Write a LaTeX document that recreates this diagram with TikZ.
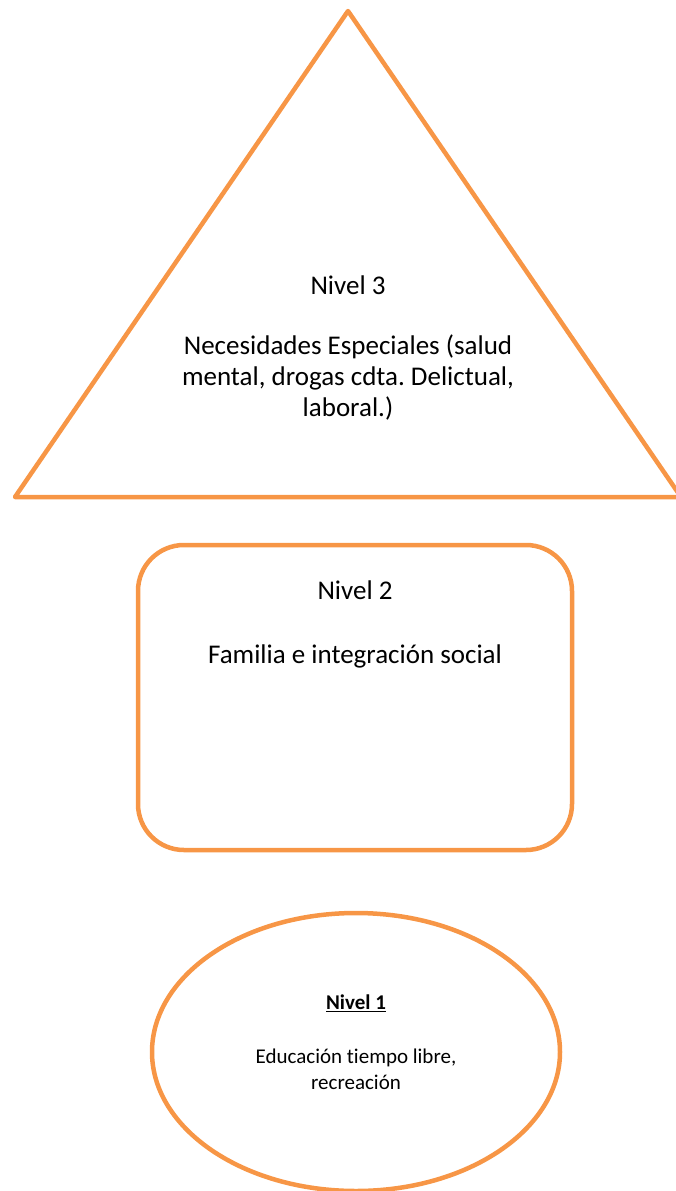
\documentclass[tikz,border=0pt]{standalone}
\usepackage{fontspec}
\setmainfont[Ligatures=NoCommon]{Carlito}
\usetikzlibrary{positioning}
\frenchspacing

\tikzset{
    levelline/.style={draw={rgb,255:red,247;green,150;blue,70}, line width=4.5pt, line join=round},
    bigtext/.style={align=center, font=\fontsize{27}{31}\selectfont},
    smalltext/.style={align=center, font=\fontsize{21}{26}\selectfont}
}

\begin{document}
\begin{tikzpicture}[x=1pt, y=-1pt]
        \useasboundingbox (0,0) rectangle (675,1191);

        % Nivel 3
        \draw[levelline] (15,497) -- (348,11) -- (681,497) -- cycle;
        \node[bigtext] (N3) at (348,285) {Nivel 3};
        \node[bigtext] (N3text) at (348,377) {Necesidades Especiales (salud\\mental, drogas cdta. Delictual,\\laboral.)};

        % Nivel 2
        \draw[levelline, rounded corners=46pt] (138,545) rectangle (572,850);
        \node[bigtext] (N2) at (355,590) {Nivel 2};
        \node[bigtext] (N2text) at (355,656) {Familia e integración social};

        % Nivel 1
        \draw[levelline] (356,1052) ellipse [x radius=204, y radius=139];
        \node[smalltext] (N1) at (356,1003) {\underline{\textbf{Nivel 1}}};
        \node[smalltext] (N1text) at (356,1069) {Educación tiempo libre,\\recreación};

    \end{tikzpicture}
\end{document}
